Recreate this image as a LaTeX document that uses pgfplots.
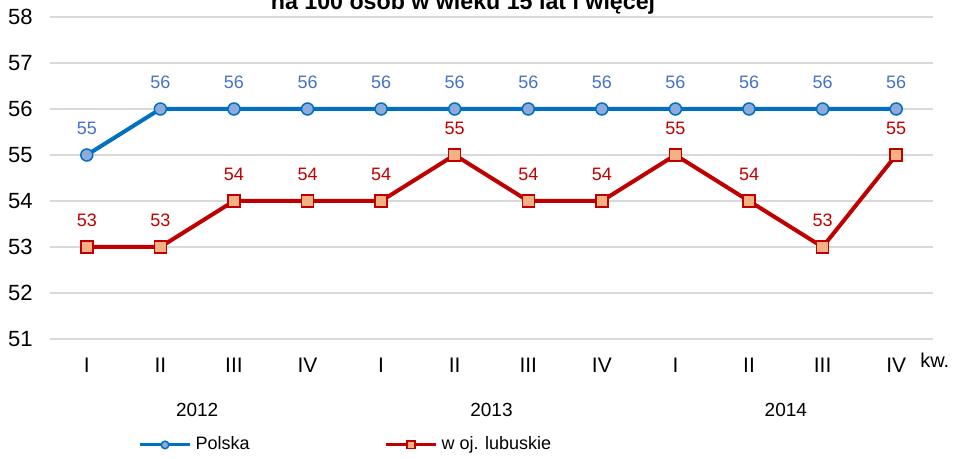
\documentclass[border=0pt]{standalone}
\usepackage{fontspec}
\setmainfont{Liberation Sans}
\usepackage{pgfplots}
\pgfplotsset{compat=1.18}

\definecolor{plblue}{HTML}{0070C0}
\definecolor{plfill}{HTML}{8EAADB}
\definecolor{pllab}{HTML}{4472C4}
\definecolor{lbred}{HTML}{C00000}
\definecolor{lbfill}{HTML}{F4B183}
\definecolor{gridgray}{HTML}{D9D9D9}

\pgfplotstableread{
x polska lubuskie
0  55 53
1  56 53
2  56 54
3  56 54
4  56 54
5  56 55
6  56 54
7  56 54
8  56 55
9  56 54
10 56 53
11 56 55
}\dane

\begin{document}
\begin{tikzpicture}
\begin{axis}[
    at={(25pt,60pt)}, anchor=south west,
    scale only axis,
    width=441.5pt, height=161pt,
    xmin=-0.5, xmax=11.5,
    ymin=51, ymax=58,
    xtick={0,...,11},
    xticklabels={I,II,III,IV,I,II,III,IV,I,II,III,IV},
    ytick={51,...,58},
    /pgf/number format/assume math mode=true,
    axis line style={draw=none},
    major tick length=0pt,
    ymajorgrids,
    grid style={color=gridgray, line width=1pt},
    yticklabel style={font=\fontsize{11}{13}\selectfont, anchor=east, inner sep=0pt, xshift=-8.5pt},
    xticklabel style={font=\fontsize{10.5}{12}\selectfont, anchor=base, yshift=-17pt},
    clip=false,
    legend columns=2,
    legend cell align=left,
    legend style={draw=none, fill=none, font=\fontsize{9}{11}\selectfont,
        at={(0.093,-0.329)}, anchor=west,
        /tikz/every even column/.append style={column sep=65.5pt}},
    legend image code/.code={
        \draw[mark repeat=2, mark phase=2, #1, line width=1.5pt, mark size=1.9pt]
            plot coordinates {(0pt,0pt) (12.5pt,0pt) (25pt,0pt)};
    },
    nodes near coords,
    every node near coord/.append style={anchor=base, yshift=10pt, inner sep=0pt,
        font=\fontsize{9}{11}\selectfont},
]
\addplot[plblue, line width=2pt, mark=*, mark size=3pt,
    mark options={fill=plfill, draw=plblue, line width=0.75pt},
    nodes near coords style={text=pllab}]
    table[x=x, y=polska] {\dane};
\addlegendentry{Polska}
\addplot[lbred, line width=2pt, mark=square*, mark size=3pt,
    mark options={fill=lbfill, draw=lbred, line width=0.75pt},
    nodes near coords style={text=lbred}]
    table[x=x, y=lubuskie] {\dane};
\addlegendentry{w oj. lubuskie}

\node[anchor=base, font=\fontsize{9.5}{11}\selectfont] at ([yshift=-39pt]axis cs:1.5,51) {2012};
\node[anchor=base, font=\fontsize{9.5}{11}\selectfont] at ([yshift=-39pt]axis cs:5.5,51) {2013};
\node[anchor=base, font=\fontsize{9.5}{11}\selectfont] at ([yshift=-39pt]axis cs:9.5,51) {2014};
\node[anchor=base west, inner sep=0pt, font=\fontsize{10}{12}\selectfont] at ([xshift=-6.5pt, yshift=-14.5pt]rel axis cs:1,0) {kw.};
\end{axis}
\node[anchor=base, font=\bfseries\fontsize{11.6}{13}\selectfont] at (231.5pt,224.5pt) {na 100 osób w wieku 15 lat i więcej};
\pgfresetboundingbox
\path[use as bounding box] (0,0) rectangle (479.5pt,229.5pt);
\end{tikzpicture}
\end{document}
